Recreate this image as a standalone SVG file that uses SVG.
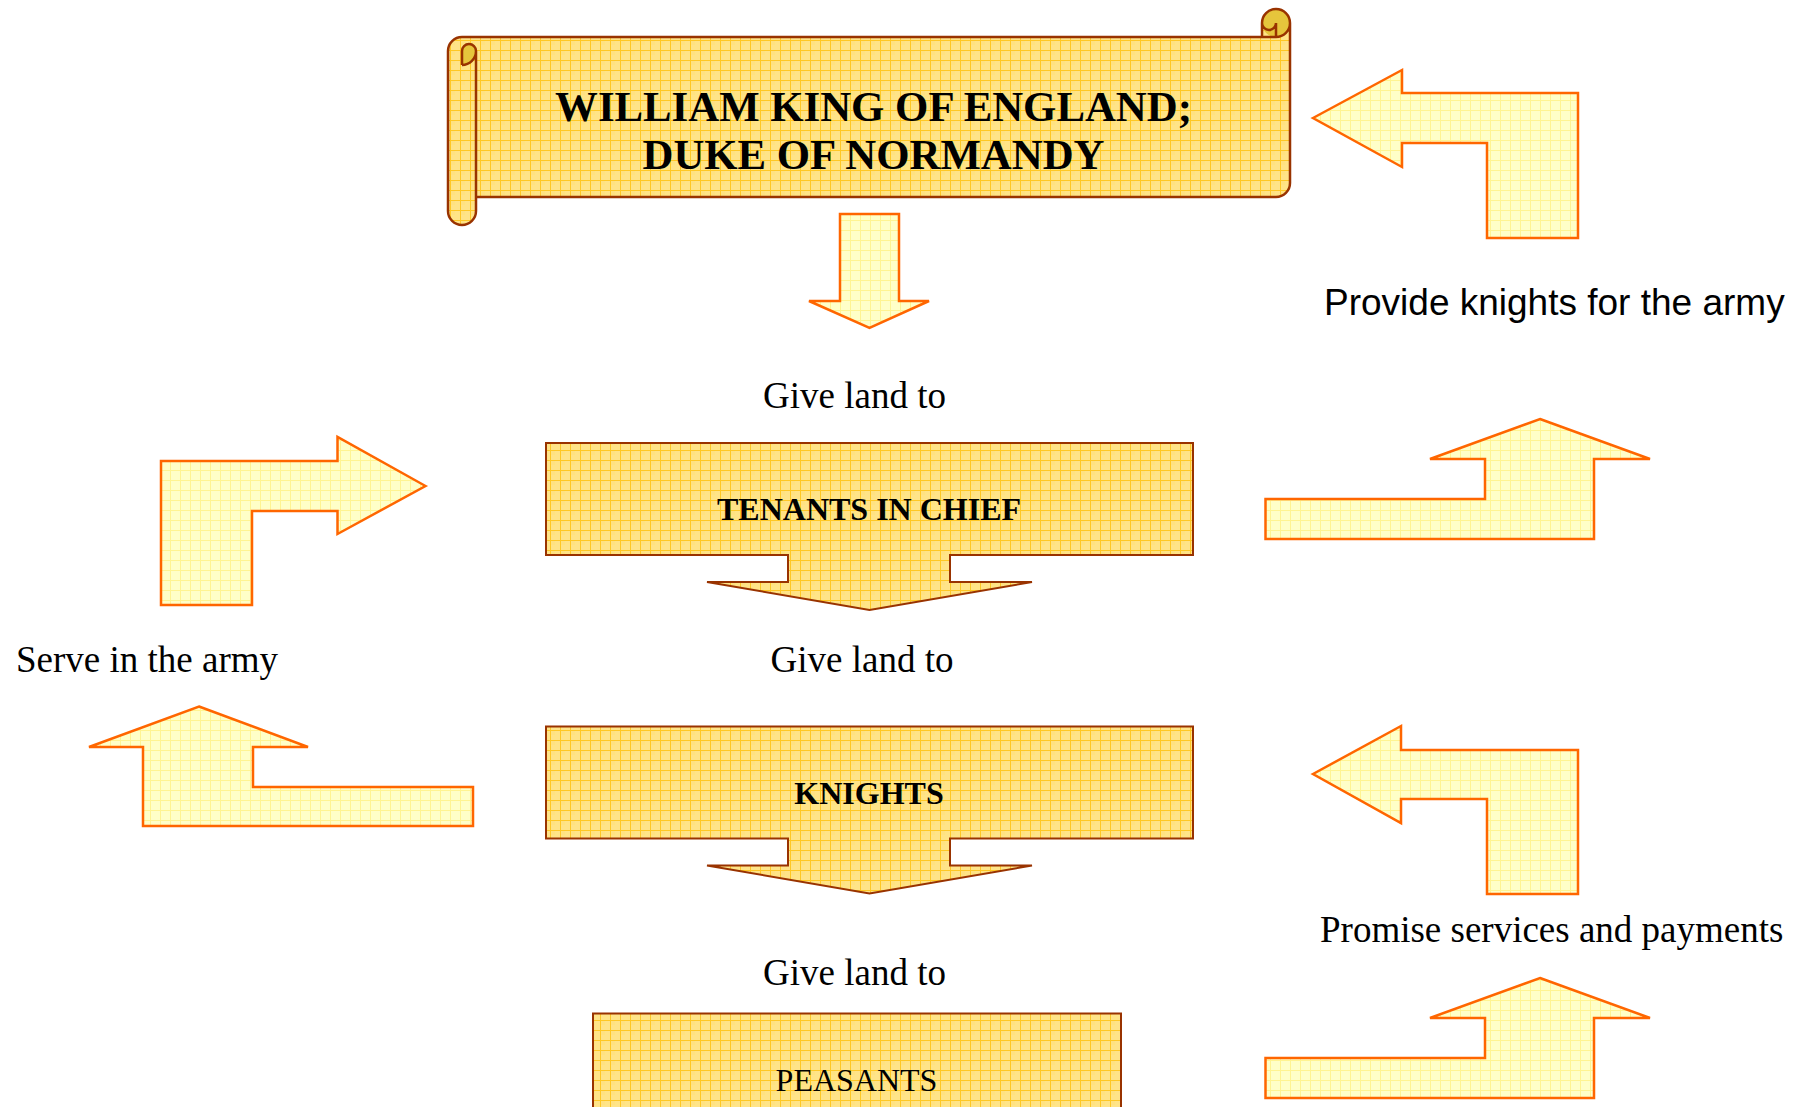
<svg xmlns="http://www.w3.org/2000/svg" width="1794" height="1107" viewBox="0 0 1794 1107">
<defs>
<pattern id="gold" width="10" height="10" patternUnits="userSpaceOnUse">
<rect width="10" height="10" fill="#FFE488"/>
<rect width="5" height="5" fill="#FFE07A" opacity="0.5"/>
<path d="M0 0.5H10M0.5 0V10" stroke="#FFC824" stroke-width="1"/>
</pattern>
<pattern id="pale" width="10" height="10" patternUnits="userSpaceOnUse">
<rect width="10" height="10" fill="#FFFFC8"/>
<path d="M0 0.5H10M0.5 0V10" stroke="#FFF07A" stroke-width="1" opacity="0.7"/>
</pattern>
<style>
.node{fill:url(#gold);stroke:#993300;stroke-width:2;stroke-linejoin:miter}
.arrow{fill:url(#pale);stroke:#FF6600;stroke-width:2.5;stroke-linejoin:miter}
.serif{font-family:"Liberation Serif","Times New Roman",serif;fill:#000}
.sans{font-family:"Liberation Sans",Arial,sans-serif;fill:#000}
.lbl{font-size:37px}
</style>
</defs>
<rect width="1794" height="1107" fill="#FFFFFF"/>

<g id="william">
<path d="M1290 23A14 14 0 0 1 1276 37L1276 23A7 7 0 0 1 1262 23L1262 37L462 37A14 14 0 0 0 448 51L448 211A14 14 0 0 0 476 211L476 197L1276 197A14 14 0 0 0 1290 183Z" fill="url(#gold)"/>
<circle cx="1276" cy="23" r="14" fill="#E6C53C"/>
<path d="M462 65A14 14 0 0 0 476 51A7 7 0 0 0 462 51Z" fill="#E6C53C"/>
<path d="M448 51A14 14 0 0 1 462 37L1262 37L1262 23A14 14 0 0 1 1290 23L1290 183A14 14 0 0 1 1276 197L476 197L476 211A14 14 0 0 1 448 211ZM1262 37L1276 37A14 14 0 0 0 1290 23M1276 37L1276 23A7 7 0 0 1 1262 23M462 65L462 51A7 7 0 0 1 476 51A14 14 0 0 1 462 65M476 51L476 197" fill="none" stroke="#993300" stroke-width="2.5"/>
<text class="serif" font-size="42.8" font-weight="bold" text-anchor="middle"><tspan x="873.5" y="120.5">WILLIAM KING OF ENGLAND;</tspan><tspan x="873.5" y="168.5">DUKE OF NORMANDY</tspan></text>
</g>

<g id="tenants">
<path class="node" d="M546 443H1193V555H950V582H1032L869.5 610L707 582H788V555H546Z"/>
<text class="serif" x="869" y="519.5" font-size="32" font-weight="bold" text-anchor="middle">TENANTS IN CHIEF</text>
</g>

<g id="knights">
<path class="node" d="M546 726.5H1193V838.5H950V865.5H1032L869.5 893.5L707 865.5H788V838.5H546Z"/>
<text class="serif" x="869" y="803.5" font-size="32" font-weight="bold" text-anchor="middle">KNIGHTS</text>
</g>

<g id="peasants">
<path class="node" d="M593 1120V1013.5H1121V1120"/>
<text class="serif" x="856.5" y="1091" font-size="32" text-anchor="middle">PEASANTS</text>
</g>

<g id="connectors">
<path class="arrow" d="M840 214H899V301H929L869.5 328L809 301H840Z"/>
<path class="arrow" d="M1313 118L1402 70V93H1578V238H1487V143H1402V167Z"/>
<path class="arrow" d="M425.5 486L337.5 437V461H161V605H252V511H337.5V534Z"/>
<path class="arrow" d="M1540 419L1650 459H1594V539H1265.5V499H1485V459H1430Z"/>
<path class="arrow" d="M199 706.5L308 747H253V787H473V826H143V747H89Z"/>
<path class="arrow" d="M1313 774L1401 726V750H1578V894H1487V799H1401V823Z"/>
<path class="arrow" d="M1540 978L1650 1018H1594V1098H1265.5V1058H1485V1018H1430Z"/>
<text class="serif lbl" x="854.5" y="408" text-anchor="middle">Give land to</text>
<text class="serif lbl" x="862" y="671.5" text-anchor="middle">Give land to</text>
<text class="serif lbl" x="854.5" y="985" text-anchor="middle">Give land to</text>
<text class="serif lbl" x="16" y="671.5">Serve in the army</text>
<text class="sans lbl" x="1324" y="314.5" font-size="37.2">Provide knights for the army</text>
<text class="serif lbl" x="1320" y="942">Promise services and payments</text>
</g>
</svg>
